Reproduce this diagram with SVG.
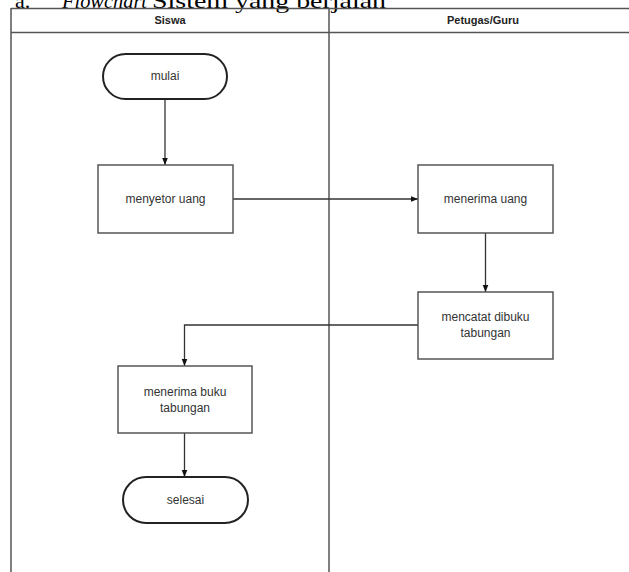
<svg xmlns="http://www.w3.org/2000/svg" width="629" height="572" viewBox="0 0 629 572">
<style>
.lane{fill:none;stroke:#555;stroke-width:1.5}
.box{fill:#fff;stroke:#555;stroke-width:1.5}
.term{fill:#fff;stroke:#222;stroke-width:2}
.lbl{font-family:"Liberation Sans",Arial,sans-serif;font-size:12px;fill:#333;text-anchor:middle}
.hdr{font-family:"Liberation Sans",Arial,sans-serif;font-size:11px;font-weight:bold;fill:#222;text-anchor:middle}
.edge{fill:none;stroke:#333;stroke-width:1.3}
.ttl{font-family:"Liberation Serif","Times New Roman",serif;font-size:22px;fill:#000}
</style>
<defs>
<marker id="ah" viewBox="0 0 10 10" refX="10" refY="5" markerWidth="7" markerHeight="7" orient="auto" markerUnits="userSpaceOnUse">
<path d="M0,1 L10,5 L0,9 Z" fill="#111"/>
</marker>
</defs>
<rect width="629" height="572" fill="#fff"/>
<g id="title">
<text class="ttl" x="15" y="8">a.</text>
<text class="ttl" x="62" y="8" font-style="italic" textLength="85" lengthAdjust="spacingAndGlyphs">Flowchart</text>
<text class="ttl" x="152" y="8" textLength="234" lengthAdjust="spacingAndGlyphs">Sistem yang berjalan</text>
</g>
<g id="pool">
<line class="lane" x1="11" y1="8.5" x2="629" y2="8.5" stroke="#444"/>
<line class="lane" x1="11" y1="32.5" x2="629" y2="32.5" stroke="#888" stroke-width="2.5"/>
<line class="lane" x1="11" y1="8" x2="11" y2="572"/>
<line class="lane" x1="329" y1="8" x2="329" y2="572"/>
<text class="hdr" x="170" y="24">Siswa</text>
<text class="hdr" x="483" y="24">Petugas/Guru</text>
</g>
<g id="connectors">
<line class="edge" x1="165" y1="99" x2="165" y2="165" marker-end="url(#ah)"/>
<line class="edge" x1="233" y1="199" x2="418" y2="199" marker-end="url(#ah)"/>
<line class="edge" x1="485.5" y1="233" x2="485.5" y2="292" marker-end="url(#ah)"/>
<polyline class="edge" points="418,325 184.5,325 184.5,366" marker-end="url(#ah)"/>
<line class="edge" x1="184.5" y1="433" x2="184.5" y2="477" marker-end="url(#ah)"/>
</g>
<g id="mulai">
<rect class="term" x="103" y="54" width="124" height="45" rx="22.5"/>
<text class="lbl" x="165" y="80">mulai</text>
</g>
<g id="menyetor-uang">
<rect class="box" x="98" y="165" width="135" height="68"/>
<text class="lbl" x="165.5" y="203">menyetor uang</text>
</g>
<g id="menerima-uang">
<rect class="box" x="418" y="165" width="135" height="68"/>
<text class="lbl" x="485.5" y="203">menerima uang</text>
</g>
<g id="mencatat">
<rect class="box" x="418" y="292" width="135" height="67"/>
<text class="lbl" x="485.5" y="321">mencatat dibuku</text>
<text class="lbl" x="485.5" y="337">tabungan</text>
</g>
<g id="menerima-buku">
<rect class="box" x="118" y="366" width="134" height="67"/>
<text class="lbl" x="185" y="396">menerima buku</text>
<text class="lbl" x="185" y="412">tabungan</text>
</g>
<g id="selesai">
<rect class="term" x="123" y="477" width="125" height="46" rx="23"/>
<text class="lbl" x="185.5" y="504">selesai</text>
</g>
</svg>
